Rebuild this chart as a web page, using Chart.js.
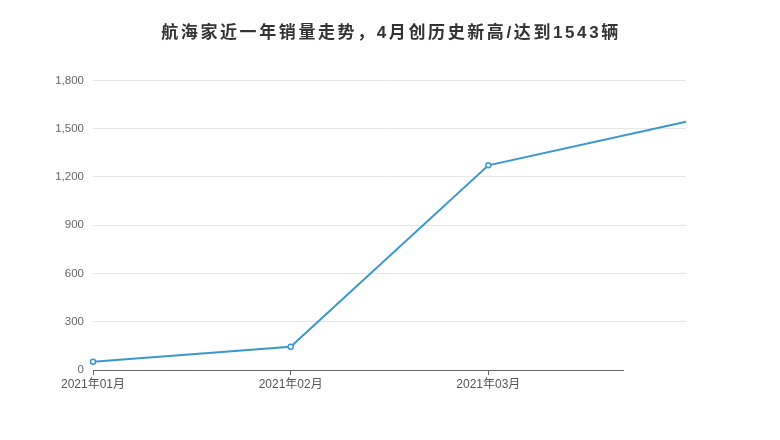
<!DOCTYPE html>
<html>
<head>
<meta charset="utf-8">
<script src="https://cdn.jsdelivr.net/npm/chart.js@4"></script>
<style>
  html, body { margin: 0; padding: 0; background: #fff; }
  #wrap { width: 780px; height: 440px; }
</style>
</head>
<body>
<div id="wrap"><canvas id="myChart" width="780" height="440"></canvas></div>
<script>
const titleText = "航海家近一年销量走势，4月创历史新高/达到1543辆";
const months = ["2021年01月", "2021年02月", "2021年03月", "2021年04月"];
const sales = [52, 145, 1272, 1543];
const yTicks = [0, 300, 600, 900, 1200, 1500, 1800];

const fontFamily = '"Liberation Sans", Arial, "Noto Sans CJK SC", sans-serif';

// title is drawn by hand so it can get the wider letter spacing of the picture;
// the built-in title stays (transparent) to keep its place in the layout
const spacedTitle = {
  id: "spacedTitle",
  afterDraw(chart) {
    const { ctx, titleBlock } = chart;
    if (!titleBlock) return;
    ctx.save();
    ctx.font = "bold 17px " + fontFamily;
    ctx.letterSpacing = "2.6px";
    ctx.fillStyle = "#333";
    ctx.textAlign = "center";
    ctx.textBaseline = "middle";
    const y = titleBlock.top + 23 + 10;
    ctx.fillText(titleText, (titleBlock.left + titleBlock.right) / 2 + 1, y);
    ctx.restore();
  }
};

// the axis line in the picture stops short of the right edge
const axisCut = {
  id: "axisCut",
  afterDraw(chart) {
    const { ctx, chartArea } = chart;
    ctx.save();
    ctx.fillStyle = "#fff";
    ctx.fillRect(chartArea.right - 62, chartArea.bottom - 1, 80, 8);
    ctx.restore();
  }
};

const ctx = document.getElementById("myChart").getContext("2d");
const chart = new Chart(ctx, {
  type: "line",
  data: {
    labels: months,
    datasets: [{
      label: "销量",
      data: sales,
      borderColor: "#3a98cf",
      backgroundColor: "#fff",
      borderWidth: 2,
      pointRadius: [2.5, 2.5, 2.5, 0],
      pointBorderWidth: 1.5,
      pointBackgroundColor: "#fff",
      pointBorderColor: "#3a98cf",
      tension: 0
    }]
  },
  options: {
    responsive: false,
    animation: false,
    layout: { padding: { left: 0, right: 0, top: 0, bottom: 38 } },
    plugins: {
      legend: { display: false },
      tooltip: { enabled: false },
      title: {
        display: true,
        text: titleText,
        color: "rgba(0,0,0,0)",
        font: { family: fontFamily, size: 17, weight: "bold" },
        padding: { top: 23, bottom: 37 }
      }
    },
    scales: {
      x: {
        offset: false,
        grid: { drawOnChartArea: false, tickLength: 5, color: "#666" },
        border: { color: "#666", width: 1 },
        ticks: {
          color: "#555",
          font: { family: fontFamily, size: 12 },
          padding: 2,
          maxRotation: 0,
          autoSkip: false,
          callback: (v, i) => i === months.length - 1 ? "" : months[i]
        },
        afterFit: s => { s.height = 32; }
      },
      y: {
        min: 0,
        max: 1800,
        afterBuildTicks: s => { s.ticks = yTicks.map(v => ({ value: v })); },
        grid: { color: "#e6e6e6", drawTicks: false },
        border: { display: false },
        ticks: {
          color: "#666",
          font: { family: fontFamily, size: 11.5 },
          padding: 9,
          callback: v => v.toLocaleString("en-US")
        },
        afterFit: s => { s.width = 93; }
      },
      yRight: {
        position: "right",
        display: true,
        grid: { display: false },
        border: { display: false },
        ticks: { display: false },
        afterFit: s => { s.width = 94; }
      }
    }
  },
  plugins: [spacedTitle, axisCut]
});
</script>
</body>
</html>
